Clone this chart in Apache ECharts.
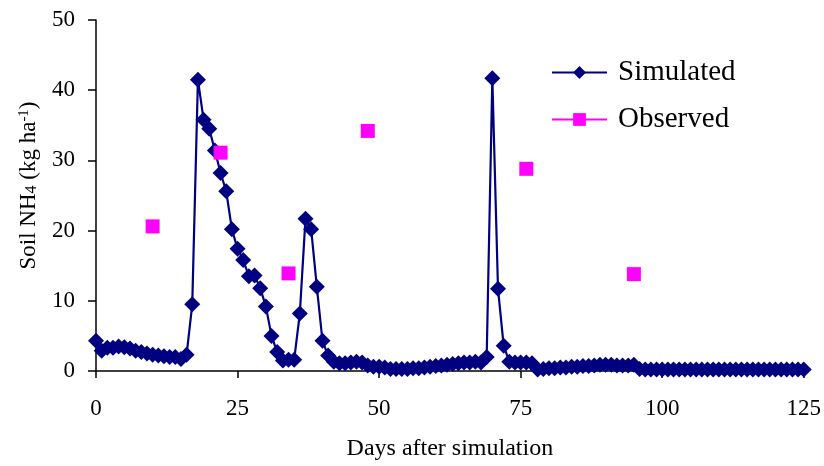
<!DOCTYPE html>
<html>
<head>
<meta charset="utf-8">
<script src="https://cdn.jsdelivr.net/npm/echarts@6/dist/echarts.min.js"></script>
<style>
	html, body { margin: 0; padding: 0; background: #fff; }
	#soil-nh4 { width: 824px; height: 466px; }
</style>
</head>
<body>
<div id="soil-nh4"></div>
<script>
	// simulated soil NH4, one value per day from day 0 to day 125
	var simValues = [
		4.3, 2.9, 3.3, 3.3, 3.5, 3.4, 3.2, 2.9, 2.7, 2.5,
		2.3, 2.2, 2.1, 2.0, 2.0, 1.7, 2.3, 9.5, 41.5, 35.8,
		34.5, 31.4, 28.2, 25.6, 20.2, 17.4, 15.8, 13.5, 13.6, 11.8,
		9.2, 5.0, 2.7, 1.5, 1.6, 1.6, 8.2, 21.7, 20.2, 12.0,
		4.3, 2.2, 1.3, 1.1, 1.1, 1.2, 1.3, 1.2, 0.8, 0.6,
		0.6, 0.5, 0.3, 0.3, 0.3, 0.3, 0.4, 0.4, 0.5, 0.6,
		0.7, 0.8, 0.9, 1.0, 1.1, 1.2, 1.2, 1.3, 1.2, 2.0,
		41.7, 11.7, 3.6, 1.3, 1.2, 1.2, 1.2, 1.1, 0.2, 0.3,
		0.4, 0.4, 0.5, 0.5, 0.6, 0.6, 0.7, 0.7, 0.8, 0.9,
		0.9, 0.9, 0.8, 0.8, 0.8, 0.9, 0.3, 0.2, 0.2, 0.2,
		0.2, 0.2, 0.2, 0.2, 0.2, 0.2, 0.2, 0.2, 0.2, 0.2,
		0.2, 0.2, 0.2, 0.2, 0.2, 0.2, 0.2, 0.2, 0.2, 0.2,
		0.2, 0.2, 0.2, 0.2, 0.2, 0.2
	];
	var obsDays = [10, 22, 34, 48, 76, 95];
	var obsValues = [20.6, 31.1, 13.9, 34.2, 28.8, 13.8];
	var xTicks = [0, 25, 50, 75, 100, 125];
	var yTicks = [0, 10, 20, 30, 40, 50];

	var serif = "'Liberation Serif', 'Times New Roman', serif";

	var simData = simValues.map(function(v, i) { return [i, v]; });
	var obsData = obsDays.map(function(d, i) { return [d, obsValues[i]]; });

	var chart = echarts.init(document.getElementById('soil-nh4'));
	var option = {
		animation: false,
		backgroundColor: '#fff',
		textStyle: { fontFamily: serif, color: '#000' },
		grid: { left: 96, right: 18, top: 20, bottom: 94 },
		legend: {
			orient: 'vertical',
			left: 546,
			top: 53,
			itemWidth: 55,
			itemHeight: 16,
			itemGap: 18,
			textStyle: { fontFamily: serif, fontSize: 29, color: '#000', lineHeight: 29, padding: [0, 0, 0, 6] },
			data: [
				{ name: 'Simulated' },
				{ name: 'Observed', lineStyle: { color: '#ff00ff', width: 2, opacity: 1 } }
			]
		},
		xAxis: {
			type: 'value',
			min: xTicks[0],
			max: xTicks[xTicks.length - 1],
			interval: 25,
			name: 'Days after simulation',
			nameLocation: 'middle',
			nameGap: 66,
			nameTextStyle: { fontFamily: serif, fontSize: 24, color: '#000' },
			axisLine: { onZero: false, lineStyle: { color: '#000', width: 1.5 } },
			axisTick: { length: 7, lineStyle: { color: '#000', width: 1.5 } },
			axisLabel: { margin: 26, fontFamily: serif, fontSize: 23, color: '#000' },
			splitLine: { show: false }
		},
		yAxis: {
			type: 'value',
			min: yTicks[0],
			max: yTicks[yTicks.length - 1],
			interval: 10,
			name: 'Soil NH{sub|4} (kg ha{sup|-1})',
			nameLocation: 'middle',
			nameGap: 56,
			nameTextStyle: {
				fontFamily: serif,
				fontSize: 23,
				color: '#000',
				padding: [0, 0, 0, 20],
				rich: {
					sub: { fontFamily: serif, fontSize: 16, color: '#000', verticalAlign: 'bottom', lineHeight: 16, padding: [11, 0, 0, 0] },
					sup: { fontFamily: serif, fontSize: 15, color: '#000', verticalAlign: 'top', lineHeight: 15, padding: [0, 0, 9, 0] }
				}
			},
			axisLine: { show: true, lineStyle: { color: '#000', width: 1.5 } },
			axisTick: { show: true, length: 8, lineStyle: { color: '#000', width: 1.5 } },
			axisLabel: { margin: 21, fontFamily: serif, fontSize: 23, color: '#000' },
			splitLine: { show: false }
		},
		series: [
			{
				name: 'Simulated',
				type: 'line',
				data: simData,
				symbol: 'diamond',
				symbolSize: 16,
				showAllSymbol: true,
				itemStyle: { color: '#000080' },
				lineStyle: { color: '#000080', width: 2.2 },
				z: 3
			},
			{
				name: 'Observed',
				type: 'line',
				data: obsData,
				symbol: 'rect',
				symbolSize: 14,
				itemStyle: { color: '#ff00ff' },
				lineStyle: { width: 0, opacity: 0 },
				z: 4
			}
		]
	};
	chart.setOption(option);
</script>
</body>
</html>
